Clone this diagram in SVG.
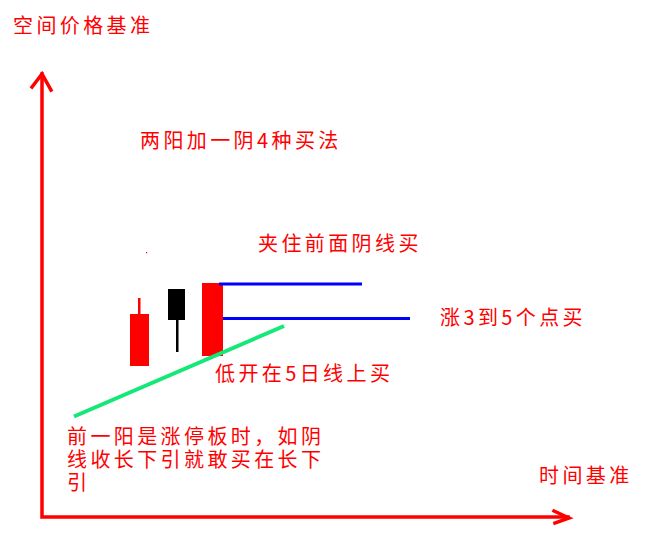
<svg xmlns="http://www.w3.org/2000/svg" width="653" height="550" viewBox="0 0 653 550">
<style>
text{font-family:"Noto Sans CJK SC","Noto Sans",sans-serif;font-size:20px;fill:#ff0000;letter-spacing:3.4px}
.axis{stroke:#ff0000;stroke-width:3.5;fill:none;stroke-linecap:square}
.blue{stroke:#0000ff;stroke-width:3;fill:none}
</style>
<rect width="653" height="550" fill="#ffffff"/>
<g id="axes" class="axis">
<polyline points="42,74 42,517 568,517"/>
<polyline points="32,87 42,74 51,90" stroke-linejoin="miter"/>
<polyline points="554,511 569,518 555,523"/>
</g>
<g id="candles">
<rect x="138" y="298" width="2.5" height="17" fill="#ff0000"/>
<rect x="130" y="314" width="19" height="52" fill="#ff0000"/>
<rect x="176" y="319" width="2.5" height="33" fill="#000000"/>
<rect x="168" y="289" width="17" height="31" fill="#000000"/>
<rect x="202" y="283" width="21" height="73" fill="#ff0000"/>
<rect x="146" y="252" width="1.2" height="1.2" fill="#ff0000"/>
</g>
<g id="connectors">
<line class="blue" x1="219" y1="284" x2="362" y2="284"/>
<line class="blue" x1="223" y1="318.5" x2="410" y2="318.5"/>
<line x1="74" y1="416.5" x2="284" y2="326" stroke="#14e878" stroke-width="4"/>
</g>
<g id="labels">
<text x="13" y="33">空间价格基准</text>
<text x="140" y="148">两阳加一阴4种买法</text>
<text x="258" y="251">夹住前面阴线买</text>
<text x="440" y="325">涨3到5个点买</text>
<text x="215" y="381">低开在5日线上买</text>
<text x="539" y="483">时间基准</text>
<text x="67" y="444">前一阳是涨停板时，如阴</text>
<text x="67" y="467">线收长下引就敢买在长下</text>
<text x="67" y="490">引</text>
</g>
</svg>
